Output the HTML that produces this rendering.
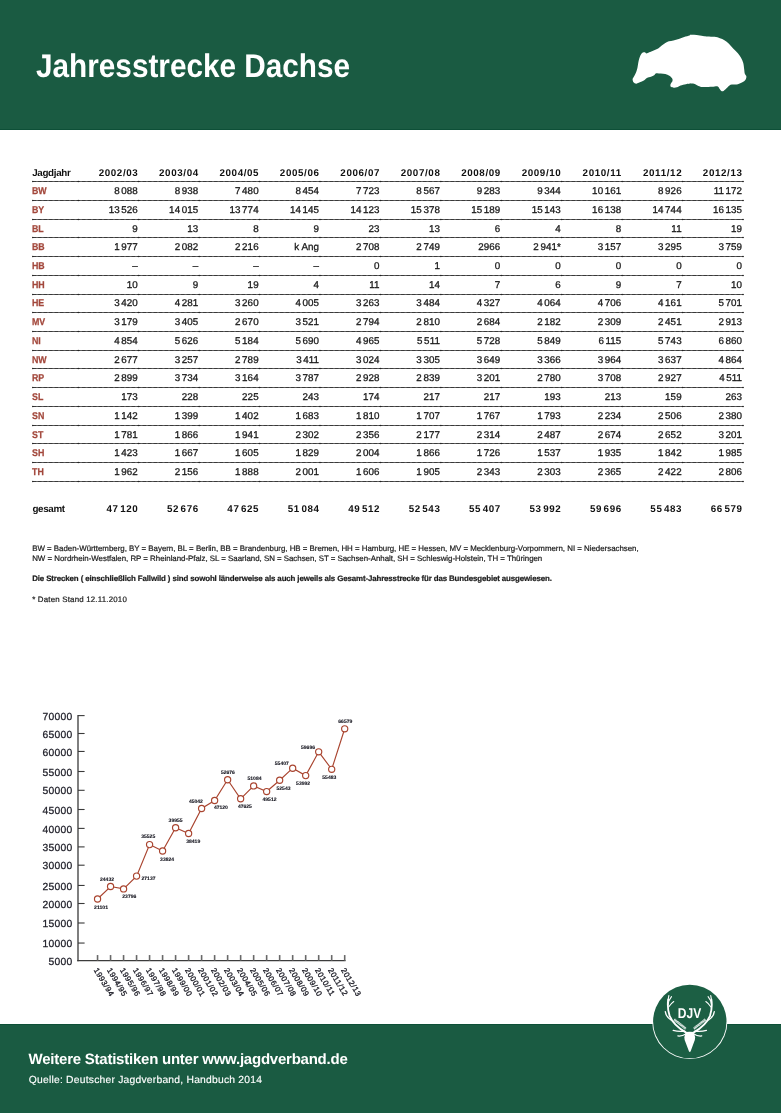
<!DOCTYPE html>
<html lang="de"><head><meta charset="utf-8"><title>Jahresstrecke Dachse</title>
<style>
html,body{margin:0;padding:0;background:#fff;}
body{width:781px;height:1113px;position:relative;overflow:hidden;font-family:"Liberation Sans",sans-serif;color:#1c1c1c;text-rendering:geometricPrecision;}
.abs{position:absolute;white-space:nowrap;}
#hdr{position:absolute;left:0;top:0;width:781px;height:129px;background:#1a5b42;border-bottom:1px solid #0d4f37;}
#ftr{position:absolute;left:0;top:1024px;width:781px;height:88px;background:#1a5b42;border-top:1px solid #0d4f37;}
#title{left:36.3px;top:46.4px;font-size:32.8px;line-height:40px;font-weight:bold;color:#fff;transform-origin:0 50%;transform:scaleX(0.9066);}
.th{font-weight:bold;font-size:9.8px;line-height:12px;height:12px;color:#111;letter-spacing:0.62px;}
.thl{font-weight:bold;font-size:9.8px;line-height:12px;height:12px;color:#111;letter-spacing:-0.32px;}
.td{font-size:9.8px;line-height:12px;height:12px;color:#1a1a1a;letter-spacing:0.08px;-webkit-text-stroke:0.3px #1a1a1a;}
.lab{font-weight:bold;font-size:9.8px;line-height:12px;height:12px;color:#a2473b;transform:scaleX(0.9);transform-origin:0 50%;-webkit-text-stroke:0.25px #a2473b;}
.r{text-align:right;width:70px;}
.th.r{margin-left:0.62px}.td.r{margin-left:0.08px}
.ts{display:inline-block;width:1.5px;}
.note{font-size:7.9px;line-height:10px;left:32.2px;color:#1a1a1a;-webkit-text-stroke:0.2px #1a1a1a;}
.f1{left:28.6px;top:1051.3px;font-size:15px;line-height:18px;font-weight:bold;color:#fff;letter-spacing:-0.235px;}
.f2{left:28.8px;top:1075.4px;font-size:10.3px;line-height:12px;color:#fff;letter-spacing:0.23px;-webkit-text-stroke:0.15px #fff;}
</style></head><body>
<div id="hdr"></div>
<div id="title" class="abs">Jahresstrecke Dachse</div>

<svg class="abs" style="left:0;top:0" width="781" height="130" viewBox="0 0 781 130"><path fill="#fff" d="M632.62 79.67 C632.72 80.32 632.94 81.72 633.51 82.36 C634.09 83.01 635.20 83.71 636.20 83.71 C637.21 83.71 638.57 82.86 639.79 82.36 C641.01 81.86 642.67 81.26 643.82 80.57 C644.97 79.88 645.81 78.66 646.96 78.06 C648.11 77.46 649.85 77.26 650.99 76.81 C652.14 76.35 653.27 75.77 654.13 75.19 C654.99 74.62 655.29 73.48 656.37 73.22 C657.45 72.96 659.42 73.44 660.85 73.58 C662.29 73.72 663.97 73.79 665.33 74.12 C666.70 74.45 668.29 74.97 669.37 75.64 C670.44 76.31 671.55 77.47 672.06 78.33 C672.56 79.19 672.75 80.09 672.50 81.02 C672.26 81.95 670.79 83.22 670.53 84.15 C670.27 85.09 670.36 86.27 670.89 86.84 C671.42 87.42 672.87 87.67 673.85 87.74 C674.82 87.81 675.91 87.65 676.98 87.29 C678.06 86.93 679.14 86.00 680.57 85.50 C682.00 85.00 684.23 84.51 685.95 84.15 C687.67 83.80 691.05 83.29 691.33 83.26 C691.60 83.23 687.70 83.95 687.69 83.98 C687.68 84.00 690.13 83.44 691.27 83.44 C692.42 83.44 693.71 83.57 694.86 83.98 C696.01 84.38 697.15 85.46 698.44 85.95 C699.73 86.44 700.77 86.88 702.93 87.02 C705.08 87.17 709.52 86.94 711.89 86.84 C714.25 86.74 716.50 86.08 717.71 86.40 C718.93 86.71 718.93 88.10 719.51 88.82 C720.08 89.53 720.65 90.55 721.30 90.88 C721.94 91.21 722.61 91.38 723.54 90.88 C724.47 90.38 726.12 88.64 727.13 87.74 C728.13 86.84 728.95 85.73 729.81 85.23 C730.67 84.73 731.21 84.78 732.50 84.60 C733.79 84.43 736.30 84.51 737.88 84.15 C739.46 83.80 741.14 83.08 742.36 82.36 C743.58 81.65 744.85 80.61 745.50 79.67 C746.14 78.74 746.50 77.47 746.40 76.54 C746.30 75.60 745.23 75.07 744.87 73.85 C744.51 72.63 744.41 70.64 744.15 68.92 C743.90 67.20 743.76 64.88 743.26 63.09 C742.76 61.30 741.88 59.29 741.02 57.71 C740.16 56.14 739.10 54.67 737.88 53.23 C736.66 51.80 734.83 50.26 733.40 48.75 C731.97 47.25 730.35 45.18 728.92 43.82 C727.48 42.46 725.87 41.13 724.44 40.24 C723.00 39.35 721.53 38.81 719.96 38.27 C718.38 37.72 716.59 37.12 714.58 36.83 C712.57 36.54 709.27 36.62 707.41 36.47 C705.54 36.33 704.65 36.16 702.93 35.93 C701.20 35.71 698.66 35.21 696.65 35.04 C694.64 34.87 691.52 34.77 690.38 34.86 C689.24 34.95 690.53 35.22 689.53 35.58 C688.54 35.93 685.88 36.57 684.15 37.10 C682.43 37.63 680.50 38.36 678.78 38.89 C677.06 39.42 674.98 40.03 673.40 40.42 C671.82 40.80 670.21 40.91 668.92 41.31 C667.63 41.71 666.48 42.24 665.33 42.93 C664.19 43.61 662.90 44.73 661.75 45.61 C660.60 46.50 659.45 47.69 658.16 48.48 C656.87 49.27 655.12 49.93 653.68 50.54 C652.25 51.16 650.35 51.86 649.20 52.34 C648.05 52.81 647.20 53.50 646.51 53.50 C645.82 53.50 645.47 52.48 644.90 52.34 C644.32 52.19 643.53 52.32 642.93 52.61 C642.32 52.89 641.71 53.24 641.13 54.13 C640.56 55.02 639.80 56.80 639.34 58.16 C638.88 59.52 638.55 61.21 638.27 62.64 C637.98 64.08 637.88 65.62 637.55 67.13 C637.22 68.63 636.71 70.69 636.20 72.06 C635.70 73.42 634.94 74.64 634.41 75.64 C633.88 76.64 633.17 77.68 632.89 78.33 C632.60 78.97 632.52 79.03 632.62 79.67 Z"/></svg>
<div class="abs thl" style="left:32.2px;top:168.4px">Jagdjahr</div>
<div class="abs th r" style="left:67.8px;top:168.4px">2002/03</div>
<div class="abs th r" style="left:128.2px;top:168.4px">2003/04</div>
<div class="abs th r" style="left:188.6px;top:168.4px">2004/05</div>
<div class="abs th r" style="left:249.0px;top:168.4px">2005/06</div>
<div class="abs th r" style="left:309.5px;top:168.4px">2006/07</div>
<div class="abs th r" style="left:369.9px;top:168.4px">2007/08</div>
<div class="abs th r" style="left:430.3px;top:168.4px">2008/09</div>
<div class="abs th r" style="left:490.8px;top:168.4px">2009/10</div>
<div class="abs th r" style="left:551.2px;top:168.4px">2010/11</div>
<div class="abs th r" style="left:611.6px;top:168.4px">2011/12</div>
<div class="abs th r" style="left:672.0px;top:168.4px">2012/13</div>
<div class="abs lab" style="left:32.4px;top:186.1px">BW</div>
<div class="abs td r" style="left:67.8px;top:186.1px">8<span class="ts"> </span>088</div>
<div class="abs td r" style="left:128.2px;top:186.1px">8<span class="ts"> </span>938</div>
<div class="abs td r" style="left:188.6px;top:186.1px">7<span class="ts"> </span>480</div>
<div class="abs td r" style="left:249.0px;top:186.1px">8<span class="ts"> </span>454</div>
<div class="abs td r" style="left:309.5px;top:186.1px">7<span class="ts"> </span>723</div>
<div class="abs td r" style="left:369.9px;top:186.1px">8<span class="ts"> </span>567</div>
<div class="abs td r" style="left:430.3px;top:186.1px">9<span class="ts"> </span>283</div>
<div class="abs td r" style="left:490.8px;top:186.1px">9<span class="ts"> </span>344</div>
<div class="abs td r" style="left:551.2px;top:186.1px">10<span class="ts"> </span>161</div>
<div class="abs td r" style="left:611.6px;top:186.1px">8<span class="ts"> </span>926</div>
<div class="abs td r" style="left:672.0px;top:186.1px">11<span class="ts"> </span>172</div>
<div class="abs lab" style="left:32.4px;top:204.8px">BY</div>
<div class="abs td r" style="left:67.8px;top:204.8px">13<span class="ts"> </span>526</div>
<div class="abs td r" style="left:128.2px;top:204.8px">14<span class="ts"> </span>015</div>
<div class="abs td r" style="left:188.6px;top:204.8px">13<span class="ts"> </span>774</div>
<div class="abs td r" style="left:249.0px;top:204.8px">14<span class="ts"> </span>145</div>
<div class="abs td r" style="left:309.5px;top:204.8px">14<span class="ts"> </span>123</div>
<div class="abs td r" style="left:369.9px;top:204.8px">15<span class="ts"> </span>378</div>
<div class="abs td r" style="left:430.3px;top:204.8px">15<span class="ts"> </span>189</div>
<div class="abs td r" style="left:490.8px;top:204.8px">15<span class="ts"> </span>143</div>
<div class="abs td r" style="left:551.2px;top:204.8px">16<span class="ts"> </span>138</div>
<div class="abs td r" style="left:611.6px;top:204.8px">14<span class="ts"> </span>744</div>
<div class="abs td r" style="left:672.0px;top:204.8px">16<span class="ts"> </span>135</div>
<div class="abs lab" style="left:32.4px;top:223.5px">BL</div>
<div class="abs td r" style="left:67.8px;top:223.5px">9</div>
<div class="abs td r" style="left:128.2px;top:223.5px">13</div>
<div class="abs td r" style="left:188.6px;top:223.5px">8</div>
<div class="abs td r" style="left:249.0px;top:223.5px">9</div>
<div class="abs td r" style="left:309.5px;top:223.5px">23</div>
<div class="abs td r" style="left:369.9px;top:223.5px">13</div>
<div class="abs td r" style="left:430.3px;top:223.5px">6</div>
<div class="abs td r" style="left:490.8px;top:223.5px">4</div>
<div class="abs td r" style="left:551.2px;top:223.5px">8</div>
<div class="abs td r" style="left:611.6px;top:223.5px">11</div>
<div class="abs td r" style="left:672.0px;top:223.5px">19</div>
<div class="abs lab" style="left:32.4px;top:242.3px">BB</div>
<div class="abs td r" style="left:67.8px;top:242.3px">1<span class="ts"> </span>977</div>
<div class="abs td r" style="left:128.2px;top:242.3px">2<span class="ts"> </span>082</div>
<div class="abs td r" style="left:188.6px;top:242.3px">2<span class="ts"> </span>216</div>
<div class="abs td r" style="left:249.0px;top:242.3px">k Ang</div>
<div class="abs td r" style="left:309.5px;top:242.3px">2<span class="ts"> </span>708</div>
<div class="abs td r" style="left:369.9px;top:242.3px">2<span class="ts"> </span>749</div>
<div class="abs td r" style="left:430.3px;top:242.3px">2966</div>
<div class="abs td r" style="left:490.8px;top:242.3px">2<span class="ts"> </span>941*</div>
<div class="abs td r" style="left:551.2px;top:242.3px">3<span class="ts"> </span>157</div>
<div class="abs td r" style="left:611.6px;top:242.3px">3<span class="ts"> </span>295</div>
<div class="abs td r" style="left:672.0px;top:242.3px">3<span class="ts"> </span>759</div>
<div class="abs lab" style="left:32.4px;top:261.0px">HB</div>
<div class="abs td r" style="left:67.8px;top:261.0px">–</div>
<div class="abs td r" style="left:128.2px;top:261.0px">–</div>
<div class="abs td r" style="left:188.6px;top:261.0px">–</div>
<div class="abs td r" style="left:249.0px;top:261.0px">–</div>
<div class="abs td r" style="left:309.5px;top:261.0px">0</div>
<div class="abs td r" style="left:369.9px;top:261.0px">1</div>
<div class="abs td r" style="left:430.3px;top:261.0px">0</div>
<div class="abs td r" style="left:490.8px;top:261.0px">0</div>
<div class="abs td r" style="left:551.2px;top:261.0px">0</div>
<div class="abs td r" style="left:611.6px;top:261.0px">0</div>
<div class="abs td r" style="left:672.0px;top:261.0px">0</div>
<div class="abs lab" style="left:32.4px;top:279.7px">HH</div>
<div class="abs td r" style="left:67.8px;top:279.7px">10</div>
<div class="abs td r" style="left:128.2px;top:279.7px">9</div>
<div class="abs td r" style="left:188.6px;top:279.7px">19</div>
<div class="abs td r" style="left:249.0px;top:279.7px">4</div>
<div class="abs td r" style="left:309.5px;top:279.7px">11</div>
<div class="abs td r" style="left:369.9px;top:279.7px">14</div>
<div class="abs td r" style="left:430.3px;top:279.7px">7</div>
<div class="abs td r" style="left:490.8px;top:279.7px">6</div>
<div class="abs td r" style="left:551.2px;top:279.7px">9</div>
<div class="abs td r" style="left:611.6px;top:279.7px">7</div>
<div class="abs td r" style="left:672.0px;top:279.7px">10</div>
<div class="abs lab" style="left:32.4px;top:298.4px">HE</div>
<div class="abs td r" style="left:67.8px;top:298.4px">3<span class="ts"> </span>420</div>
<div class="abs td r" style="left:128.2px;top:298.4px">4<span class="ts"> </span>281</div>
<div class="abs td r" style="left:188.6px;top:298.4px">3<span class="ts"> </span>260</div>
<div class="abs td r" style="left:249.0px;top:298.4px">4<span class="ts"> </span>005</div>
<div class="abs td r" style="left:309.5px;top:298.4px">3<span class="ts"> </span>263</div>
<div class="abs td r" style="left:369.9px;top:298.4px">3<span class="ts"> </span>484</div>
<div class="abs td r" style="left:430.3px;top:298.4px">4<span class="ts"> </span>327</div>
<div class="abs td r" style="left:490.8px;top:298.4px">4<span class="ts"> </span>064</div>
<div class="abs td r" style="left:551.2px;top:298.4px">4<span class="ts"> </span>706</div>
<div class="abs td r" style="left:611.6px;top:298.4px">4<span class="ts"> </span>161</div>
<div class="abs td r" style="left:672.0px;top:298.4px">5<span class="ts"> </span>701</div>
<div class="abs lab" style="left:32.4px;top:317.1px">MV</div>
<div class="abs td r" style="left:67.8px;top:317.1px">3<span class="ts"> </span>179</div>
<div class="abs td r" style="left:128.2px;top:317.1px">3<span class="ts"> </span>405</div>
<div class="abs td r" style="left:188.6px;top:317.1px">2<span class="ts"> </span>670</div>
<div class="abs td r" style="left:249.0px;top:317.1px">3<span class="ts"> </span>521</div>
<div class="abs td r" style="left:309.5px;top:317.1px">2<span class="ts"> </span>794</div>
<div class="abs td r" style="left:369.9px;top:317.1px">2<span class="ts"> </span>810</div>
<div class="abs td r" style="left:430.3px;top:317.1px">2<span class="ts"> </span>684</div>
<div class="abs td r" style="left:490.8px;top:317.1px">2<span class="ts"> </span>182</div>
<div class="abs td r" style="left:551.2px;top:317.1px">2<span class="ts"> </span>309</div>
<div class="abs td r" style="left:611.6px;top:317.1px">2<span class="ts"> </span>451</div>
<div class="abs td r" style="left:672.0px;top:317.1px">2<span class="ts"> </span>913</div>
<div class="abs lab" style="left:32.4px;top:335.9px">NI</div>
<div class="abs td r" style="left:67.8px;top:335.9px">4<span class="ts"> </span>854</div>
<div class="abs td r" style="left:128.2px;top:335.9px">5<span class="ts"> </span>626</div>
<div class="abs td r" style="left:188.6px;top:335.9px">5<span class="ts"> </span>184</div>
<div class="abs td r" style="left:249.0px;top:335.9px">5<span class="ts"> </span>690</div>
<div class="abs td r" style="left:309.5px;top:335.9px">4<span class="ts"> </span>965</div>
<div class="abs td r" style="left:369.9px;top:335.9px">5<span class="ts"> </span>511</div>
<div class="abs td r" style="left:430.3px;top:335.9px">5<span class="ts"> </span>728</div>
<div class="abs td r" style="left:490.8px;top:335.9px">5<span class="ts"> </span>849</div>
<div class="abs td r" style="left:551.2px;top:335.9px">6<span class="ts"> </span>115</div>
<div class="abs td r" style="left:611.6px;top:335.9px">5<span class="ts"> </span>743</div>
<div class="abs td r" style="left:672.0px;top:335.9px">6<span class="ts"> </span>860</div>
<div class="abs lab" style="left:32.4px;top:354.6px">NW</div>
<div class="abs td r" style="left:67.8px;top:354.6px">2<span class="ts"> </span>677</div>
<div class="abs td r" style="left:128.2px;top:354.6px">3<span class="ts"> </span>257</div>
<div class="abs td r" style="left:188.6px;top:354.6px">2<span class="ts"> </span>789</div>
<div class="abs td r" style="left:249.0px;top:354.6px">3<span class="ts"> </span>411</div>
<div class="abs td r" style="left:309.5px;top:354.6px">3<span class="ts"> </span>024</div>
<div class="abs td r" style="left:369.9px;top:354.6px">3<span class="ts"> </span>305</div>
<div class="abs td r" style="left:430.3px;top:354.6px">3<span class="ts"> </span>649</div>
<div class="abs td r" style="left:490.8px;top:354.6px">3<span class="ts"> </span>366</div>
<div class="abs td r" style="left:551.2px;top:354.6px">3<span class="ts"> </span>964</div>
<div class="abs td r" style="left:611.6px;top:354.6px">3<span class="ts"> </span>637</div>
<div class="abs td r" style="left:672.0px;top:354.6px">4<span class="ts"> </span>864</div>
<div class="abs lab" style="left:32.4px;top:373.3px">RP</div>
<div class="abs td r" style="left:67.8px;top:373.3px">2<span class="ts"> </span>899</div>
<div class="abs td r" style="left:128.2px;top:373.3px">3<span class="ts"> </span>734</div>
<div class="abs td r" style="left:188.6px;top:373.3px">3<span class="ts"> </span>164</div>
<div class="abs td r" style="left:249.0px;top:373.3px">3<span class="ts"> </span>787</div>
<div class="abs td r" style="left:309.5px;top:373.3px">2<span class="ts"> </span>928</div>
<div class="abs td r" style="left:369.9px;top:373.3px">2<span class="ts"> </span>839</div>
<div class="abs td r" style="left:430.3px;top:373.3px">3<span class="ts"> </span>201</div>
<div class="abs td r" style="left:490.8px;top:373.3px">2<span class="ts"> </span>780</div>
<div class="abs td r" style="left:551.2px;top:373.3px">3<span class="ts"> </span>708</div>
<div class="abs td r" style="left:611.6px;top:373.3px">2<span class="ts"> </span>927</div>
<div class="abs td r" style="left:672.0px;top:373.3px">4<span class="ts"> </span>511</div>
<div class="abs lab" style="left:32.4px;top:392.0px">SL</div>
<div class="abs td r" style="left:67.8px;top:392.0px">173</div>
<div class="abs td r" style="left:128.2px;top:392.0px">228</div>
<div class="abs td r" style="left:188.6px;top:392.0px">225</div>
<div class="abs td r" style="left:249.0px;top:392.0px">243</div>
<div class="abs td r" style="left:309.5px;top:392.0px">174</div>
<div class="abs td r" style="left:369.9px;top:392.0px">217</div>
<div class="abs td r" style="left:430.3px;top:392.0px">217</div>
<div class="abs td r" style="left:490.8px;top:392.0px">193</div>
<div class="abs td r" style="left:551.2px;top:392.0px">213</div>
<div class="abs td r" style="left:611.6px;top:392.0px">159</div>
<div class="abs td r" style="left:672.0px;top:392.0px">263</div>
<div class="abs lab" style="left:32.4px;top:410.7px">SN</div>
<div class="abs td r" style="left:67.8px;top:410.7px">1<span class="ts"> </span>142</div>
<div class="abs td r" style="left:128.2px;top:410.7px">1<span class="ts"> </span>399</div>
<div class="abs td r" style="left:188.6px;top:410.7px">1<span class="ts"> </span>402</div>
<div class="abs td r" style="left:249.0px;top:410.7px">1<span class="ts"> </span>683</div>
<div class="abs td r" style="left:309.5px;top:410.7px">1<span class="ts"> </span>810</div>
<div class="abs td r" style="left:369.9px;top:410.7px">1<span class="ts"> </span>707</div>
<div class="abs td r" style="left:430.3px;top:410.7px">1<span class="ts"> </span>767</div>
<div class="abs td r" style="left:490.8px;top:410.7px">1<span class="ts"> </span>793</div>
<div class="abs td r" style="left:551.2px;top:410.7px">2<span class="ts"> </span>234</div>
<div class="abs td r" style="left:611.6px;top:410.7px">2<span class="ts"> </span>506</div>
<div class="abs td r" style="left:672.0px;top:410.7px">2<span class="ts"> </span>380</div>
<div class="abs lab" style="left:32.4px;top:429.5px">ST</div>
<div class="abs td r" style="left:67.8px;top:429.5px">1<span class="ts"> </span>781</div>
<div class="abs td r" style="left:128.2px;top:429.5px">1<span class="ts"> </span>866</div>
<div class="abs td r" style="left:188.6px;top:429.5px">1<span class="ts"> </span>941</div>
<div class="abs td r" style="left:249.0px;top:429.5px">2<span class="ts"> </span>302</div>
<div class="abs td r" style="left:309.5px;top:429.5px">2<span class="ts"> </span>356</div>
<div class="abs td r" style="left:369.9px;top:429.5px">2<span class="ts"> </span>177</div>
<div class="abs td r" style="left:430.3px;top:429.5px">2<span class="ts"> </span>314</div>
<div class="abs td r" style="left:490.8px;top:429.5px">2<span class="ts"> </span>487</div>
<div class="abs td r" style="left:551.2px;top:429.5px">2<span class="ts"> </span>674</div>
<div class="abs td r" style="left:611.6px;top:429.5px">2<span class="ts"> </span>652</div>
<div class="abs td r" style="left:672.0px;top:429.5px">3<span class="ts"> </span>201</div>
<div class="abs lab" style="left:32.4px;top:448.2px">SH</div>
<div class="abs td r" style="left:67.8px;top:448.2px">1<span class="ts"> </span>423</div>
<div class="abs td r" style="left:128.2px;top:448.2px">1<span class="ts"> </span>667</div>
<div class="abs td r" style="left:188.6px;top:448.2px">1<span class="ts"> </span>605</div>
<div class="abs td r" style="left:249.0px;top:448.2px">1<span class="ts"> </span>829</div>
<div class="abs td r" style="left:309.5px;top:448.2px">2<span class="ts"> </span>004</div>
<div class="abs td r" style="left:369.9px;top:448.2px">1<span class="ts"> </span>866</div>
<div class="abs td r" style="left:430.3px;top:448.2px">1<span class="ts"> </span>726</div>
<div class="abs td r" style="left:490.8px;top:448.2px">1<span class="ts"> </span>537</div>
<div class="abs td r" style="left:551.2px;top:448.2px">1<span class="ts"> </span>935</div>
<div class="abs td r" style="left:611.6px;top:448.2px">1<span class="ts"> </span>842</div>
<div class="abs td r" style="left:672.0px;top:448.2px">1<span class="ts"> </span>985</div>
<div class="abs lab" style="left:32.4px;top:466.9px">TH</div>
<div class="abs td r" style="left:67.8px;top:466.9px">1<span class="ts"> </span>962</div>
<div class="abs td r" style="left:128.2px;top:466.9px">2<span class="ts"> </span>156</div>
<div class="abs td r" style="left:188.6px;top:466.9px">1<span class="ts"> </span>888</div>
<div class="abs td r" style="left:249.0px;top:466.9px">2<span class="ts"> </span>001</div>
<div class="abs td r" style="left:309.5px;top:466.9px">1<span class="ts"> </span>606</div>
<div class="abs td r" style="left:369.9px;top:466.9px">1<span class="ts"> </span>905</div>
<div class="abs td r" style="left:430.3px;top:466.9px">2<span class="ts"> </span>343</div>
<div class="abs td r" style="left:490.8px;top:466.9px">2<span class="ts"> </span>303</div>
<div class="abs td r" style="left:551.2px;top:466.9px">2<span class="ts"> </span>365</div>
<div class="abs td r" style="left:611.6px;top:466.9px">2<span class="ts"> </span>422</div>
<div class="abs td r" style="left:672.0px;top:466.9px">2<span class="ts"> </span>806</div>
<div class="abs thl" style="left:32.4px;top:504.1px">gesamt</div>
<div class="abs th r" style="left:67.8px;top:504.1px">47<span class="ts"> </span>120</div>
<div class="abs th r" style="left:128.2px;top:504.1px">52<span class="ts"> </span>676</div>
<div class="abs th r" style="left:188.6px;top:504.1px">47<span class="ts"> </span>625</div>
<div class="abs th r" style="left:249.0px;top:504.1px">51<span class="ts"> </span>084</div>
<div class="abs th r" style="left:309.5px;top:504.1px">49<span class="ts"> </span>512</div>
<div class="abs th r" style="left:369.9px;top:504.1px">52<span class="ts"> </span>543</div>
<div class="abs th r" style="left:430.3px;top:504.1px">55<span class="ts"> </span>407</div>
<div class="abs th r" style="left:490.8px;top:504.1px">53<span class="ts"> </span>992</div>
<div class="abs th r" style="left:551.2px;top:504.1px">59<span class="ts"> </span>696</div>
<div class="abs th r" style="left:611.6px;top:504.1px">55<span class="ts"> </span>483</div>
<div class="abs th r" style="left:672.0px;top:504.1px">66<span class="ts"> </span>579</div>
<svg class="abs" style="left:0;top:170px" width="781" height="330" viewBox="0 170 781 330">
<path d="M32.6 181.50 H743.4" stroke="#5c5c5c" stroke-width="1" fill="none"/>
<path d="M32.6 181.50 H743.4" stroke="#3a3a3a" stroke-width="1" stroke-dasharray="3.4 2.1" fill="none"/>
<circle cx="32.8" cy="181.50" r="0.75" fill="#222"/>
<circle cx="78.3" cy="181.50" r="0.75" fill="#222"/>
<circle cx="138.7" cy="181.50" r="0.75" fill="#222"/>
<circle cx="199.2" cy="181.50" r="0.75" fill="#222"/>
<circle cx="259.6" cy="181.50" r="0.75" fill="#222"/>
<circle cx="320.0" cy="181.50" r="0.75" fill="#222"/>
<circle cx="380.4" cy="181.50" r="0.75" fill="#222"/>
<circle cx="440.9" cy="181.50" r="0.75" fill="#222"/>
<circle cx="501.3" cy="181.50" r="0.75" fill="#222"/>
<circle cx="561.7" cy="181.50" r="0.75" fill="#222"/>
<circle cx="622.2" cy="181.50" r="0.75" fill="#222"/>
<circle cx="682.6" cy="181.50" r="0.75" fill="#222"/>
<circle cx="743.0" cy="181.50" r="0.75" fill="#222"/>
<path d="M32.6 200.50 H743.4" stroke="#5c5c5c" stroke-width="1" fill="none"/>
<path d="M32.6 200.50 H743.4" stroke="#3a3a3a" stroke-width="1" stroke-dasharray="3.4 2.1" fill="none"/>
<circle cx="32.8" cy="200.50" r="0.75" fill="#222"/>
<circle cx="78.3" cy="200.50" r="0.75" fill="#222"/>
<circle cx="138.7" cy="200.50" r="0.75" fill="#222"/>
<circle cx="199.2" cy="200.50" r="0.75" fill="#222"/>
<circle cx="259.6" cy="200.50" r="0.75" fill="#222"/>
<circle cx="320.0" cy="200.50" r="0.75" fill="#222"/>
<circle cx="380.4" cy="200.50" r="0.75" fill="#222"/>
<circle cx="440.9" cy="200.50" r="0.75" fill="#222"/>
<circle cx="501.3" cy="200.50" r="0.75" fill="#222"/>
<circle cx="561.7" cy="200.50" r="0.75" fill="#222"/>
<circle cx="622.2" cy="200.50" r="0.75" fill="#222"/>
<circle cx="682.6" cy="200.50" r="0.75" fill="#222"/>
<circle cx="743.0" cy="200.50" r="0.75" fill="#222"/>
<path d="M32.6 219.50 H743.4" stroke="#5c5c5c" stroke-width="1" fill="none"/>
<path d="M32.6 219.50 H743.4" stroke="#3a3a3a" stroke-width="1" stroke-dasharray="3.4 2.1" fill="none"/>
<circle cx="32.8" cy="219.50" r="0.75" fill="#222"/>
<circle cx="78.3" cy="219.50" r="0.75" fill="#222"/>
<circle cx="138.7" cy="219.50" r="0.75" fill="#222"/>
<circle cx="199.2" cy="219.50" r="0.75" fill="#222"/>
<circle cx="259.6" cy="219.50" r="0.75" fill="#222"/>
<circle cx="320.0" cy="219.50" r="0.75" fill="#222"/>
<circle cx="380.4" cy="219.50" r="0.75" fill="#222"/>
<circle cx="440.9" cy="219.50" r="0.75" fill="#222"/>
<circle cx="501.3" cy="219.50" r="0.75" fill="#222"/>
<circle cx="561.7" cy="219.50" r="0.75" fill="#222"/>
<circle cx="622.2" cy="219.50" r="0.75" fill="#222"/>
<circle cx="682.6" cy="219.50" r="0.75" fill="#222"/>
<circle cx="743.0" cy="219.50" r="0.75" fill="#222"/>
<path d="M32.6 237.50 H743.4" stroke="#5c5c5c" stroke-width="1" fill="none"/>
<path d="M32.6 237.50 H743.4" stroke="#3a3a3a" stroke-width="1" stroke-dasharray="3.4 2.1" fill="none"/>
<circle cx="32.8" cy="237.50" r="0.75" fill="#222"/>
<circle cx="78.3" cy="237.50" r="0.75" fill="#222"/>
<circle cx="138.7" cy="237.50" r="0.75" fill="#222"/>
<circle cx="199.2" cy="237.50" r="0.75" fill="#222"/>
<circle cx="259.6" cy="237.50" r="0.75" fill="#222"/>
<circle cx="320.0" cy="237.50" r="0.75" fill="#222"/>
<circle cx="380.4" cy="237.50" r="0.75" fill="#222"/>
<circle cx="440.9" cy="237.50" r="0.75" fill="#222"/>
<circle cx="501.3" cy="237.50" r="0.75" fill="#222"/>
<circle cx="561.7" cy="237.50" r="0.75" fill="#222"/>
<circle cx="622.2" cy="237.50" r="0.75" fill="#222"/>
<circle cx="682.6" cy="237.50" r="0.75" fill="#222"/>
<circle cx="743.0" cy="237.50" r="0.75" fill="#222"/>
<path d="M32.6 256.50 H743.4" stroke="#5c5c5c" stroke-width="1" fill="none"/>
<path d="M32.6 256.50 H743.4" stroke="#3a3a3a" stroke-width="1" stroke-dasharray="3.4 2.1" fill="none"/>
<circle cx="32.8" cy="256.50" r="0.75" fill="#222"/>
<circle cx="78.3" cy="256.50" r="0.75" fill="#222"/>
<circle cx="138.7" cy="256.50" r="0.75" fill="#222"/>
<circle cx="199.2" cy="256.50" r="0.75" fill="#222"/>
<circle cx="259.6" cy="256.50" r="0.75" fill="#222"/>
<circle cx="320.0" cy="256.50" r="0.75" fill="#222"/>
<circle cx="380.4" cy="256.50" r="0.75" fill="#222"/>
<circle cx="440.9" cy="256.50" r="0.75" fill="#222"/>
<circle cx="501.3" cy="256.50" r="0.75" fill="#222"/>
<circle cx="561.7" cy="256.50" r="0.75" fill="#222"/>
<circle cx="622.2" cy="256.50" r="0.75" fill="#222"/>
<circle cx="682.6" cy="256.50" r="0.75" fill="#222"/>
<circle cx="743.0" cy="256.50" r="0.75" fill="#222"/>
<path d="M32.6 275.50 H743.4" stroke="#5c5c5c" stroke-width="1" fill="none"/>
<path d="M32.6 275.50 H743.4" stroke="#3a3a3a" stroke-width="1" stroke-dasharray="3.4 2.1" fill="none"/>
<circle cx="32.8" cy="275.50" r="0.75" fill="#222"/>
<circle cx="78.3" cy="275.50" r="0.75" fill="#222"/>
<circle cx="138.7" cy="275.50" r="0.75" fill="#222"/>
<circle cx="199.2" cy="275.50" r="0.75" fill="#222"/>
<circle cx="259.6" cy="275.50" r="0.75" fill="#222"/>
<circle cx="320.0" cy="275.50" r="0.75" fill="#222"/>
<circle cx="380.4" cy="275.50" r="0.75" fill="#222"/>
<circle cx="440.9" cy="275.50" r="0.75" fill="#222"/>
<circle cx="501.3" cy="275.50" r="0.75" fill="#222"/>
<circle cx="561.7" cy="275.50" r="0.75" fill="#222"/>
<circle cx="622.2" cy="275.50" r="0.75" fill="#222"/>
<circle cx="682.6" cy="275.50" r="0.75" fill="#222"/>
<circle cx="743.0" cy="275.50" r="0.75" fill="#222"/>
<path d="M32.6 294.50 H743.4" stroke="#5c5c5c" stroke-width="1" fill="none"/>
<path d="M32.6 294.50 H743.4" stroke="#3a3a3a" stroke-width="1" stroke-dasharray="3.4 2.1" fill="none"/>
<circle cx="32.8" cy="294.50" r="0.75" fill="#222"/>
<circle cx="78.3" cy="294.50" r="0.75" fill="#222"/>
<circle cx="138.7" cy="294.50" r="0.75" fill="#222"/>
<circle cx="199.2" cy="294.50" r="0.75" fill="#222"/>
<circle cx="259.6" cy="294.50" r="0.75" fill="#222"/>
<circle cx="320.0" cy="294.50" r="0.75" fill="#222"/>
<circle cx="380.4" cy="294.50" r="0.75" fill="#222"/>
<circle cx="440.9" cy="294.50" r="0.75" fill="#222"/>
<circle cx="501.3" cy="294.50" r="0.75" fill="#222"/>
<circle cx="561.7" cy="294.50" r="0.75" fill="#222"/>
<circle cx="622.2" cy="294.50" r="0.75" fill="#222"/>
<circle cx="682.6" cy="294.50" r="0.75" fill="#222"/>
<circle cx="743.0" cy="294.50" r="0.75" fill="#222"/>
<path d="M32.6 312.50 H743.4" stroke="#5c5c5c" stroke-width="1" fill="none"/>
<path d="M32.6 312.50 H743.4" stroke="#3a3a3a" stroke-width="1" stroke-dasharray="3.4 2.1" fill="none"/>
<circle cx="32.8" cy="312.50" r="0.75" fill="#222"/>
<circle cx="78.3" cy="312.50" r="0.75" fill="#222"/>
<circle cx="138.7" cy="312.50" r="0.75" fill="#222"/>
<circle cx="199.2" cy="312.50" r="0.75" fill="#222"/>
<circle cx="259.6" cy="312.50" r="0.75" fill="#222"/>
<circle cx="320.0" cy="312.50" r="0.75" fill="#222"/>
<circle cx="380.4" cy="312.50" r="0.75" fill="#222"/>
<circle cx="440.9" cy="312.50" r="0.75" fill="#222"/>
<circle cx="501.3" cy="312.50" r="0.75" fill="#222"/>
<circle cx="561.7" cy="312.50" r="0.75" fill="#222"/>
<circle cx="622.2" cy="312.50" r="0.75" fill="#222"/>
<circle cx="682.6" cy="312.50" r="0.75" fill="#222"/>
<circle cx="743.0" cy="312.50" r="0.75" fill="#222"/>
<path d="M32.6 331.50 H743.4" stroke="#5c5c5c" stroke-width="1" fill="none"/>
<path d="M32.6 331.50 H743.4" stroke="#3a3a3a" stroke-width="1" stroke-dasharray="3.4 2.1" fill="none"/>
<circle cx="32.8" cy="331.50" r="0.75" fill="#222"/>
<circle cx="78.3" cy="331.50" r="0.75" fill="#222"/>
<circle cx="138.7" cy="331.50" r="0.75" fill="#222"/>
<circle cx="199.2" cy="331.50" r="0.75" fill="#222"/>
<circle cx="259.6" cy="331.50" r="0.75" fill="#222"/>
<circle cx="320.0" cy="331.50" r="0.75" fill="#222"/>
<circle cx="380.4" cy="331.50" r="0.75" fill="#222"/>
<circle cx="440.9" cy="331.50" r="0.75" fill="#222"/>
<circle cx="501.3" cy="331.50" r="0.75" fill="#222"/>
<circle cx="561.7" cy="331.50" r="0.75" fill="#222"/>
<circle cx="622.2" cy="331.50" r="0.75" fill="#222"/>
<circle cx="682.6" cy="331.50" r="0.75" fill="#222"/>
<circle cx="743.0" cy="331.50" r="0.75" fill="#222"/>
<path d="M32.6 350.50 H743.4" stroke="#5c5c5c" stroke-width="1" fill="none"/>
<path d="M32.6 350.50 H743.4" stroke="#3a3a3a" stroke-width="1" stroke-dasharray="3.4 2.1" fill="none"/>
<circle cx="32.8" cy="350.50" r="0.75" fill="#222"/>
<circle cx="78.3" cy="350.50" r="0.75" fill="#222"/>
<circle cx="138.7" cy="350.50" r="0.75" fill="#222"/>
<circle cx="199.2" cy="350.50" r="0.75" fill="#222"/>
<circle cx="259.6" cy="350.50" r="0.75" fill="#222"/>
<circle cx="320.0" cy="350.50" r="0.75" fill="#222"/>
<circle cx="380.4" cy="350.50" r="0.75" fill="#222"/>
<circle cx="440.9" cy="350.50" r="0.75" fill="#222"/>
<circle cx="501.3" cy="350.50" r="0.75" fill="#222"/>
<circle cx="561.7" cy="350.50" r="0.75" fill="#222"/>
<circle cx="622.2" cy="350.50" r="0.75" fill="#222"/>
<circle cx="682.6" cy="350.50" r="0.75" fill="#222"/>
<circle cx="743.0" cy="350.50" r="0.75" fill="#222"/>
<path d="M32.6 368.50 H743.4" stroke="#5c5c5c" stroke-width="1" fill="none"/>
<path d="M32.6 368.50 H743.4" stroke="#3a3a3a" stroke-width="1" stroke-dasharray="3.4 2.1" fill="none"/>
<circle cx="32.8" cy="368.50" r="0.75" fill="#222"/>
<circle cx="78.3" cy="368.50" r="0.75" fill="#222"/>
<circle cx="138.7" cy="368.50" r="0.75" fill="#222"/>
<circle cx="199.2" cy="368.50" r="0.75" fill="#222"/>
<circle cx="259.6" cy="368.50" r="0.75" fill="#222"/>
<circle cx="320.0" cy="368.50" r="0.75" fill="#222"/>
<circle cx="380.4" cy="368.50" r="0.75" fill="#222"/>
<circle cx="440.9" cy="368.50" r="0.75" fill="#222"/>
<circle cx="501.3" cy="368.50" r="0.75" fill="#222"/>
<circle cx="561.7" cy="368.50" r="0.75" fill="#222"/>
<circle cx="622.2" cy="368.50" r="0.75" fill="#222"/>
<circle cx="682.6" cy="368.50" r="0.75" fill="#222"/>
<circle cx="743.0" cy="368.50" r="0.75" fill="#222"/>
<path d="M32.6 387.50 H743.4" stroke="#5c5c5c" stroke-width="1" fill="none"/>
<path d="M32.6 387.50 H743.4" stroke="#3a3a3a" stroke-width="1" stroke-dasharray="3.4 2.1" fill="none"/>
<circle cx="32.8" cy="387.50" r="0.75" fill="#222"/>
<circle cx="78.3" cy="387.50" r="0.75" fill="#222"/>
<circle cx="138.7" cy="387.50" r="0.75" fill="#222"/>
<circle cx="199.2" cy="387.50" r="0.75" fill="#222"/>
<circle cx="259.6" cy="387.50" r="0.75" fill="#222"/>
<circle cx="320.0" cy="387.50" r="0.75" fill="#222"/>
<circle cx="380.4" cy="387.50" r="0.75" fill="#222"/>
<circle cx="440.9" cy="387.50" r="0.75" fill="#222"/>
<circle cx="501.3" cy="387.50" r="0.75" fill="#222"/>
<circle cx="561.7" cy="387.50" r="0.75" fill="#222"/>
<circle cx="622.2" cy="387.50" r="0.75" fill="#222"/>
<circle cx="682.6" cy="387.50" r="0.75" fill="#222"/>
<circle cx="743.0" cy="387.50" r="0.75" fill="#222"/>
<path d="M32.6 406.50 H743.4" stroke="#5c5c5c" stroke-width="1" fill="none"/>
<path d="M32.6 406.50 H743.4" stroke="#3a3a3a" stroke-width="1" stroke-dasharray="3.4 2.1" fill="none"/>
<circle cx="32.8" cy="406.50" r="0.75" fill="#222"/>
<circle cx="78.3" cy="406.50" r="0.75" fill="#222"/>
<circle cx="138.7" cy="406.50" r="0.75" fill="#222"/>
<circle cx="199.2" cy="406.50" r="0.75" fill="#222"/>
<circle cx="259.6" cy="406.50" r="0.75" fill="#222"/>
<circle cx="320.0" cy="406.50" r="0.75" fill="#222"/>
<circle cx="380.4" cy="406.50" r="0.75" fill="#222"/>
<circle cx="440.9" cy="406.50" r="0.75" fill="#222"/>
<circle cx="501.3" cy="406.50" r="0.75" fill="#222"/>
<circle cx="561.7" cy="406.50" r="0.75" fill="#222"/>
<circle cx="622.2" cy="406.50" r="0.75" fill="#222"/>
<circle cx="682.6" cy="406.50" r="0.75" fill="#222"/>
<circle cx="743.0" cy="406.50" r="0.75" fill="#222"/>
<path d="M32.6 425.50 H743.4" stroke="#5c5c5c" stroke-width="1" fill="none"/>
<path d="M32.6 425.50 H743.4" stroke="#3a3a3a" stroke-width="1" stroke-dasharray="3.4 2.1" fill="none"/>
<circle cx="32.8" cy="425.50" r="0.75" fill="#222"/>
<circle cx="78.3" cy="425.50" r="0.75" fill="#222"/>
<circle cx="138.7" cy="425.50" r="0.75" fill="#222"/>
<circle cx="199.2" cy="425.50" r="0.75" fill="#222"/>
<circle cx="259.6" cy="425.50" r="0.75" fill="#222"/>
<circle cx="320.0" cy="425.50" r="0.75" fill="#222"/>
<circle cx="380.4" cy="425.50" r="0.75" fill="#222"/>
<circle cx="440.9" cy="425.50" r="0.75" fill="#222"/>
<circle cx="501.3" cy="425.50" r="0.75" fill="#222"/>
<circle cx="561.7" cy="425.50" r="0.75" fill="#222"/>
<circle cx="622.2" cy="425.50" r="0.75" fill="#222"/>
<circle cx="682.6" cy="425.50" r="0.75" fill="#222"/>
<circle cx="743.0" cy="425.50" r="0.75" fill="#222"/>
<path d="M32.6 443.50 H743.4" stroke="#5c5c5c" stroke-width="1" fill="none"/>
<path d="M32.6 443.50 H743.4" stroke="#3a3a3a" stroke-width="1" stroke-dasharray="3.4 2.1" fill="none"/>
<circle cx="32.8" cy="443.50" r="0.75" fill="#222"/>
<circle cx="78.3" cy="443.50" r="0.75" fill="#222"/>
<circle cx="138.7" cy="443.50" r="0.75" fill="#222"/>
<circle cx="199.2" cy="443.50" r="0.75" fill="#222"/>
<circle cx="259.6" cy="443.50" r="0.75" fill="#222"/>
<circle cx="320.0" cy="443.50" r="0.75" fill="#222"/>
<circle cx="380.4" cy="443.50" r="0.75" fill="#222"/>
<circle cx="440.9" cy="443.50" r="0.75" fill="#222"/>
<circle cx="501.3" cy="443.50" r="0.75" fill="#222"/>
<circle cx="561.7" cy="443.50" r="0.75" fill="#222"/>
<circle cx="622.2" cy="443.50" r="0.75" fill="#222"/>
<circle cx="682.6" cy="443.50" r="0.75" fill="#222"/>
<circle cx="743.0" cy="443.50" r="0.75" fill="#222"/>
<path d="M32.6 462.50 H743.4" stroke="#5c5c5c" stroke-width="1" fill="none"/>
<path d="M32.6 462.50 H743.4" stroke="#3a3a3a" stroke-width="1" stroke-dasharray="3.4 2.1" fill="none"/>
<circle cx="32.8" cy="462.50" r="0.75" fill="#222"/>
<circle cx="78.3" cy="462.50" r="0.75" fill="#222"/>
<circle cx="138.7" cy="462.50" r="0.75" fill="#222"/>
<circle cx="199.2" cy="462.50" r="0.75" fill="#222"/>
<circle cx="259.6" cy="462.50" r="0.75" fill="#222"/>
<circle cx="320.0" cy="462.50" r="0.75" fill="#222"/>
<circle cx="380.4" cy="462.50" r="0.75" fill="#222"/>
<circle cx="440.9" cy="462.50" r="0.75" fill="#222"/>
<circle cx="501.3" cy="462.50" r="0.75" fill="#222"/>
<circle cx="561.7" cy="462.50" r="0.75" fill="#222"/>
<circle cx="622.2" cy="462.50" r="0.75" fill="#222"/>
<circle cx="682.6" cy="462.50" r="0.75" fill="#222"/>
<circle cx="743.0" cy="462.50" r="0.75" fill="#222"/>
<path d="M32.6 481.50 H743.4" stroke="#5c5c5c" stroke-width="1" fill="none"/>
<path d="M32.6 481.50 H743.4" stroke="#3a3a3a" stroke-width="1" stroke-dasharray="3.4 2.1" fill="none"/>
<circle cx="32.8" cy="481.50" r="0.75" fill="#222"/>
<circle cx="78.3" cy="481.50" r="0.75" fill="#222"/>
<circle cx="138.7" cy="481.50" r="0.75" fill="#222"/>
<circle cx="199.2" cy="481.50" r="0.75" fill="#222"/>
<circle cx="259.6" cy="481.50" r="0.75" fill="#222"/>
<circle cx="320.0" cy="481.50" r="0.75" fill="#222"/>
<circle cx="380.4" cy="481.50" r="0.75" fill="#222"/>
<circle cx="440.9" cy="481.50" r="0.75" fill="#222"/>
<circle cx="501.3" cy="481.50" r="0.75" fill="#222"/>
<circle cx="561.7" cy="481.50" r="0.75" fill="#222"/>
<circle cx="622.2" cy="481.50" r="0.75" fill="#222"/>
<circle cx="682.6" cy="481.50" r="0.75" fill="#222"/>
<circle cx="743.0" cy="481.50" r="0.75" fill="#222"/>
</svg>
<div class="abs note" style="top:543.8px;letter-spacing:-0.013px">BW = Baden-Württemberg, BY = Bayern, BL = Berlin, BB = Brandenburg, HB = Bremen, HH = Hamburg, HE = Hessen, MV = Mecklenburg-Vorpommern, NI = Niedersachsen,</div>
<div class="abs note" style="top:554.3px;letter-spacing:-0.02px">NW = Nordrhein-Westfalen, RP = Rheinland-Pfalz, SL = Saarland, SN = Sachsen, ST = Sachsen-Anhalt, SH = Schleswig-Holstein, TH = Thüringen</div>
<div class="abs note" style="top:574.0px;font-weight:bold;letter-spacing:-0.12px;">Die Strecken ( einschließlich Fallwild ) sind sowohl länderweise als auch jeweils als Gesamt-Jahresstrecke für das Bundesgebiet ausgewiesen.</div>
<div class="abs note" style="top:594.5px;letter-spacing:0.19px">* Daten Stand 12.11.2010</div>
<svg class="abs" style="left:0;top:690px" width="420" height="330" viewBox="0 690 420 330" font-family="Liberation Sans, sans-serif">
<path d="M78.00 715.10 V961.25" stroke="#686868" stroke-width="1.7" fill="none"/>
<path d="M77.20 960.65 H345.6" stroke="#3c3c3c" stroke-width="1.35" fill="none"/>
<g stroke="#3a3a3a" stroke-width="1.1" fill="none">
<path d="M78.00 715.60 H84.6"/>
<path d="M78.00 733.50 H84.6"/>
<path d="M78.00 751.45 H84.6"/>
<path d="M78.00 771.50 H84.6"/>
<path d="M78.00 790.30 H84.6"/>
<path d="M78.00 809.50 H84.6"/>
<path d="M78.00 828.40 H84.6"/>
<path d="M78.00 846.90 H84.6"/>
<path d="M78.00 865.20 H84.6"/>
<path d="M78.00 885.45 H84.6"/>
<path d="M78.00 903.50 H84.6"/>
<path d="M78.00 923.00 H84.6"/>
<path d="M78.00 943.05 H84.6"/>
</g>
<g stroke="#686868" stroke-width="1.6" fill="none">
<path d="M97.55 960.65 v-5.6"/>
<path d="M110.56 960.65 v-5.6"/>
<path d="M123.57 960.65 v-5.6"/>
<path d="M136.57 960.65 v-5.6"/>
<path d="M149.58 960.65 v-5.6"/>
<path d="M162.59 960.65 v-5.6"/>
<path d="M175.60 960.65 v-5.6"/>
<path d="M188.61 960.65 v-5.6"/>
<path d="M201.61 960.65 v-5.6"/>
<path d="M214.62 960.65 v-5.6"/>
<path d="M227.63 960.65 v-5.6"/>
<path d="M240.64 960.65 v-5.6"/>
<path d="M253.65 960.65 v-5.6"/>
<path d="M266.65 960.65 v-5.6"/>
<path d="M279.66 960.65 v-5.6"/>
<path d="M292.67 960.65 v-5.6"/>
<path d="M305.68 960.65 v-5.6"/>
<path d="M318.69 960.65 v-5.6"/>
<path d="M331.69 960.65 v-5.6"/>
<path d="M344.70 960.65 v-5.6"/>
</g>
<g font-size="10.3" fill="#20202a" stroke="#20202a" stroke-width="0.25" text-anchor="end">
<text x="72.3" y="719.7" textLength="29.7" lengthAdjust="spacing">70000</text>
<text x="72.3" y="737.6" textLength="29.7" lengthAdjust="spacing">65000</text>
<text x="72.3" y="755.6" textLength="29.7" lengthAdjust="spacing">60000</text>
<text x="72.3" y="775.6" textLength="29.7" lengthAdjust="spacing">55000</text>
<text x="72.3" y="794.4" textLength="29.7" lengthAdjust="spacing">50000</text>
<text x="72.3" y="813.6" textLength="29.7" lengthAdjust="spacing">45000</text>
<text x="72.3" y="832.5" textLength="29.7" lengthAdjust="spacing">40000</text>
<text x="72.3" y="851.0" textLength="29.7" lengthAdjust="spacing">35000</text>
<text x="72.3" y="869.3" textLength="29.7" lengthAdjust="spacing">30000</text>
<text x="72.3" y="889.6" textLength="29.7" lengthAdjust="spacing">25000</text>
<text x="72.3" y="907.6" textLength="29.7" lengthAdjust="spacing">20000</text>
<text x="72.3" y="927.1" textLength="29.7" lengthAdjust="spacing">15000</text>
<text x="72.3" y="947.1" textLength="29.7" lengthAdjust="spacing">10000</text>
<text x="72.3" y="964.8" textLength="23.7" lengthAdjust="spacing">5000</text>
</g>
<polyline fill="none" stroke="#a9442f" stroke-width="1.15" points="97.5,899.0 110.6,886.5 123.6,888.9 136.6,876.1 149.6,844.6 162.6,851.0 175.6,827.7 188.6,833.5 201.6,808.5 214.6,800.5 227.6,779.7 240.6,798.8 253.6,785.9 266.7,791.5 279.7,780.2 292.7,768.2 305.7,775.6 318.7,751.8 331.7,769.3 344.7,728.8"/>
<circle cx="97.55" cy="899.00" r="3.1" fill="#fff" stroke="#a9442f" stroke-width="1.15"/>
<circle cx="110.56" cy="886.45" r="3.1" fill="#fff" stroke="#a9442f" stroke-width="1.15"/>
<circle cx="123.57" cy="888.90" r="3.1" fill="#fff" stroke="#a9442f" stroke-width="1.15"/>
<circle cx="136.57" cy="876.10" r="3.1" fill="#fff" stroke="#a9442f" stroke-width="1.15"/>
<circle cx="149.58" cy="844.60" r="3.1" fill="#fff" stroke="#a9442f" stroke-width="1.15"/>
<circle cx="162.59" cy="851.00" r="3.1" fill="#fff" stroke="#a9442f" stroke-width="1.15"/>
<circle cx="175.60" cy="827.70" r="3.1" fill="#fff" stroke="#a9442f" stroke-width="1.15"/>
<circle cx="188.61" cy="833.50" r="3.1" fill="#fff" stroke="#a9442f" stroke-width="1.15"/>
<circle cx="201.61" cy="808.50" r="3.1" fill="#fff" stroke="#a9442f" stroke-width="1.15"/>
<circle cx="214.62" cy="800.45" r="3.1" fill="#fff" stroke="#a9442f" stroke-width="1.15"/>
<circle cx="227.63" cy="779.70" r="3.1" fill="#fff" stroke="#a9442f" stroke-width="1.15"/>
<circle cx="240.64" cy="798.75" r="3.1" fill="#fff" stroke="#a9442f" stroke-width="1.15"/>
<circle cx="253.65" cy="785.90" r="3.1" fill="#fff" stroke="#a9442f" stroke-width="1.15"/>
<circle cx="266.65" cy="791.55" r="3.1" fill="#fff" stroke="#a9442f" stroke-width="1.15"/>
<circle cx="279.66" cy="780.20" r="3.1" fill="#fff" stroke="#a9442f" stroke-width="1.15"/>
<circle cx="292.67" cy="768.25" r="3.1" fill="#fff" stroke="#a9442f" stroke-width="1.15"/>
<circle cx="305.68" cy="775.60" r="3.1" fill="#fff" stroke="#a9442f" stroke-width="1.15"/>
<circle cx="318.69" cy="751.80" r="3.1" fill="#fff" stroke="#a9442f" stroke-width="1.15"/>
<circle cx="331.69" cy="769.30" r="3.1" fill="#fff" stroke="#a9442f" stroke-width="1.15"/>
<circle cx="344.70" cy="728.80" r="3.1" fill="#fff" stroke="#a9442f" stroke-width="1.15"/>
<g font-size="5" fill="#15151f" stroke="#15151f" stroke-width="0.12" text-anchor="middle" font-weight="bold">
<text x="101.1" y="909.3" textLength="14" lengthAdjust="spacingAndGlyphs">21101</text>
<text x="107.0" y="881.1" textLength="14" lengthAdjust="spacingAndGlyphs">24432</text>
<text x="129.3" y="898.3" textLength="14" lengthAdjust="spacingAndGlyphs">23796</text>
<text x="148.5" y="880.4" textLength="14" lengthAdjust="spacingAndGlyphs">27137</text>
<text x="148.2" y="838.3" textLength="14" lengthAdjust="spacingAndGlyphs">35525</text>
<text x="167.1" y="860.7" textLength="14" lengthAdjust="spacingAndGlyphs">33824</text>
<text x="175.6" y="822.3" textLength="14" lengthAdjust="spacingAndGlyphs">39955</text>
<text x="193.2" y="843.2" textLength="14" lengthAdjust="spacingAndGlyphs">38419</text>
<text x="195.9" y="803.4" textLength="14" lengthAdjust="spacingAndGlyphs">45042</text>
<text x="220.9" y="809.1" textLength="14" lengthAdjust="spacingAndGlyphs">47120</text>
<text x="227.9" y="774.4" textLength="14" lengthAdjust="spacingAndGlyphs">52676</text>
<text x="244.9" y="808.0" textLength="14" lengthAdjust="spacingAndGlyphs">47625</text>
<text x="254.5" y="780.0" textLength="14" lengthAdjust="spacingAndGlyphs">51084</text>
<text x="269.5" y="801.1" textLength="14" lengthAdjust="spacingAndGlyphs">49512</text>
<text x="283.5" y="790.0" textLength="14" lengthAdjust="spacingAndGlyphs">52543</text>
<text x="281.8" y="765.0" textLength="14" lengthAdjust="spacingAndGlyphs">55407</text>
<text x="303.1" y="785.0" textLength="14" lengthAdjust="spacingAndGlyphs">53992</text>
<text x="308.0" y="748.9" textLength="14" lengthAdjust="spacingAndGlyphs">59696</text>
<text x="329.3" y="779.2" textLength="14" lengthAdjust="spacingAndGlyphs">55483</text>
<text x="345.3" y="723.1" textLength="14" lengthAdjust="spacingAndGlyphs">66579</text>
</g>
<g font-size="7.9" fill="#20202a" stroke="#20202a" stroke-width="0.3" letter-spacing="0.45">
<text transform="translate(93.6 970.0) rotate(59)" x="0" y="0">1993/94</text>
<text transform="translate(106.7 970.0) rotate(59)" x="0" y="0">1994/95</text>
<text transform="translate(119.7 970.0) rotate(59)" x="0" y="0">1995/96</text>
<text transform="translate(132.7 970.0) rotate(59)" x="0" y="0">1996/97</text>
<text transform="translate(145.7 970.0) rotate(59)" x="0" y="0">1997/98</text>
<text transform="translate(158.7 970.0) rotate(59)" x="0" y="0">1998/99</text>
<text transform="translate(171.7 970.0) rotate(59)" x="0" y="0">1999/00</text>
<text transform="translate(184.7 970.0) rotate(59)" x="0" y="0">2000/01</text>
<text transform="translate(197.7 970.0) rotate(59)" x="0" y="0">2001/02</text>
<text transform="translate(210.7 970.0) rotate(59)" x="0" y="0">2002/03</text>
<text transform="translate(223.7 970.0) rotate(59)" x="0" y="0">2003/04</text>
<text transform="translate(236.7 970.0) rotate(59)" x="0" y="0">2004/05</text>
<text transform="translate(249.7 970.0) rotate(59)" x="0" y="0">2005/06</text>
<text transform="translate(262.8 970.0) rotate(59)" x="0" y="0">2006/07</text>
<text transform="translate(275.8 970.0) rotate(59)" x="0" y="0">2007/08</text>
<text transform="translate(288.8 970.0) rotate(59)" x="0" y="0">2008/09</text>
<text transform="translate(301.8 970.0) rotate(59)" x="0" y="0">2009/10</text>
<text transform="translate(314.8 970.0) rotate(59)" x="0" y="0">2010/11</text>
<text transform="translate(327.8 970.0) rotate(59)" x="0" y="0">2011/12</text>
<text transform="translate(340.8 970.0) rotate(59)" x="0" y="0">2012/13</text>
</g>
</svg>
<div id="ftr"></div>
<div class="abs f1">Weitere Statistiken unter www.jagdverband.de</div>
<div class="abs f2">Quelle: Deutscher Jagdverband, Handbuch 2014</div>
<svg class="abs" style="left:645px;top:977px" width="90" height="90" viewBox="645 977 90 90">
<circle cx="689.8" cy="1021.5" r="37.6" fill="#fff"/>
<circle cx="689.8" cy="1021.5" r="36.7" fill="#1c5f44"/>
<text x="689.5" y="1017.7" font-family="Liberation Sans, sans-serif" font-weight="bold" font-size="14.3" fill="#fff" text-anchor="middle" textLength="23.4" lengthAdjust="spacingAndGlyphs">DJV</text>
<g transform="translate(650 980) scale(0.102433)">
<g fill="none" stroke="#fff" stroke-linecap="round" stroke-linejoin="round">
<path d="M356 516 C300 484 222 434 190 345 C174 292 170 240 178 190" stroke-width="18"/>
<path d="M178 200 C177 185 180 170 184 152" stroke-width="11"/>
<path d="M176 240 C180 208 194 182 210 163" stroke-width="11"/>
<path d="M184 262 C198 240 214 222 232 210" stroke-width="10"/>
<path d="M205 390 C174 370 152 344 149 308" stroke-width="13"/>
<path d="M340 500 C300 505 262 503 226 492" stroke-width="12"/>
<path d="M354 524 C324 543 298 550 272 546" stroke-width="12"/>
<path d="M236 386 L350 476" stroke-width="24" stroke-dasharray="8 3" stroke-linecap="butt"/>
</g>
<g transform="translate(777 0) scale(-1 1)"><g fill="none" stroke="#fff" stroke-linecap="round" stroke-linejoin="round">
<path d="M356 516 C300 484 222 434 190 345 C174 292 170 240 178 190" stroke-width="18"/>
<path d="M178 200 C177 185 180 170 184 152" stroke-width="11"/>
<path d="M176 240 C180 208 194 182 210 163" stroke-width="11"/>
<path d="M184 262 C198 240 214 222 232 210" stroke-width="10"/>
<path d="M205 390 C174 370 152 344 149 308" stroke-width="13"/>
<path d="M340 500 C300 505 262 503 226 492" stroke-width="12"/>
<path d="M354 524 C324 543 298 550 272 546" stroke-width="12"/>
<path d="M236 386 L350 476" stroke-width="24" stroke-dasharray="8 3" stroke-linecap="butt"/>
</g></g>
<path fill="#fff" d="M350 508 Q388 500 427 508 L441 560 Q440 585 432 600 L396 698 Q388 706 381 698 L344 600 Q336 585 335 560 Z"/>
</g></svg>
</body></html>
